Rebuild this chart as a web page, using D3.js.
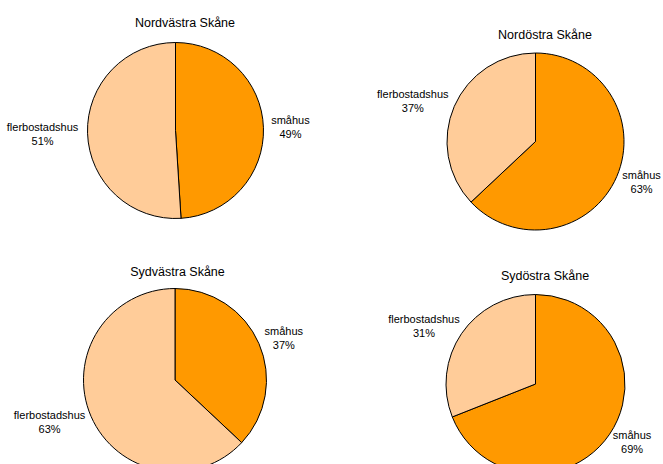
<!DOCTYPE html>
<html>
<head>
<meta charset="utf-8">
<script src="https://cdn.jsdelivr.net/npm/d3@7"></script>
<style>
  body { margin: 0; background: #fff; }
  text { font-family: "Liberation Sans", Arial, sans-serif; fill: #000; }
</style>
</head>
<body>
<div id="chart"></div>
<script>
// data
const regions = ["Nordvästra Skåne", "Nordöstra Skåne", "Sydvästra Skåne", "Sydöstra Skåne"];
const categories = ["småhus", "flerbostadshus"];
const smahus = [49, 63, 37, 69];
const flerbostadshus = [51, 37, 63, 31];

const width = 663, height = 464;

// layout of the four panels
const panels = [
    { cx: 175.5, cy: 130.5, r: 88, tx: 185, ty: 22 },
    { cx: 535.5, cy: 141.5, r: 88.5, tx: 545, ty: 34 },
    { cx: 175, cy: 380, r: 91.5, tx: 177.5, ty: 271.5 },
    { cx: 535.5, cy: 384, r: 89.5, tx: 545, ty: 275.5 }
];

const color = d3.scaleOrdinal(categories, ["#FF9900", "#FFCC99"]);

const svg = d3.select("#chart")
    .append("svg")
    .attr("width", width)
    .attr("height", height);

const pie = d3.pie().sort(null).value(d => d.value);

regions.forEach((name, i) => {
    const p = panels[i];
    const rows = [
        { cat: categories[0], value: smahus[i] },
        { cat: categories[1], value: flerbostadshus[i] }
    ];
    const arcs = pie(rows);
    const arc = d3.arc().innerRadius(0).outerRadius(p.r);

    const g = svg.append("g").attr("transform", `translate(${p.cx},${p.cy})`);

    g.selectAll("path")
        .data(arcs)
        .join("path")
        .attr("d", arc)
        .attr("fill", d => color(d.data.cat))
        .attr("stroke", "#000")
        .attr("stroke-width", 1);

    // labels placed just outside the arc, block pushed outward
    const R = p.r + 7;
    const lab = g.selectAll("g.lab")
        .data(arcs)
        .join("g")
        .attr("class", "lab")
        .attr("transform", d => {
            const a = (d.startAngle + d.endAngle) / 2;
            const s = Math.sin(a), c = Math.cos(a);
            const w = d.data.cat === "småhus" ? 38 : 72;
            const x = s * R + s * w / 2 + (s < 0 ? -2 : 1);
            const y = -c * R - c * 7;
            return `translate(${x},${y})`;
        });
    lab.append("text")
        .attr("text-anchor", "middle")
        .attr("y", -3)
        .style("font-size", "11px")
        .text(d => d.data.cat);
    lab.append("text")
        .attr("text-anchor", "middle")
        .attr("y", 11)
        .style("font-size", "11px")
        .text(d => d.data.value + "%");

    svg.append("text")
        .attr("x", p.tx)
        .attr("y", p.ty + 4.5)
        .attr("text-anchor", "middle")
        .style("font-size", "12.5px")
        .text(name);
});
</script>
</body>
</html>
